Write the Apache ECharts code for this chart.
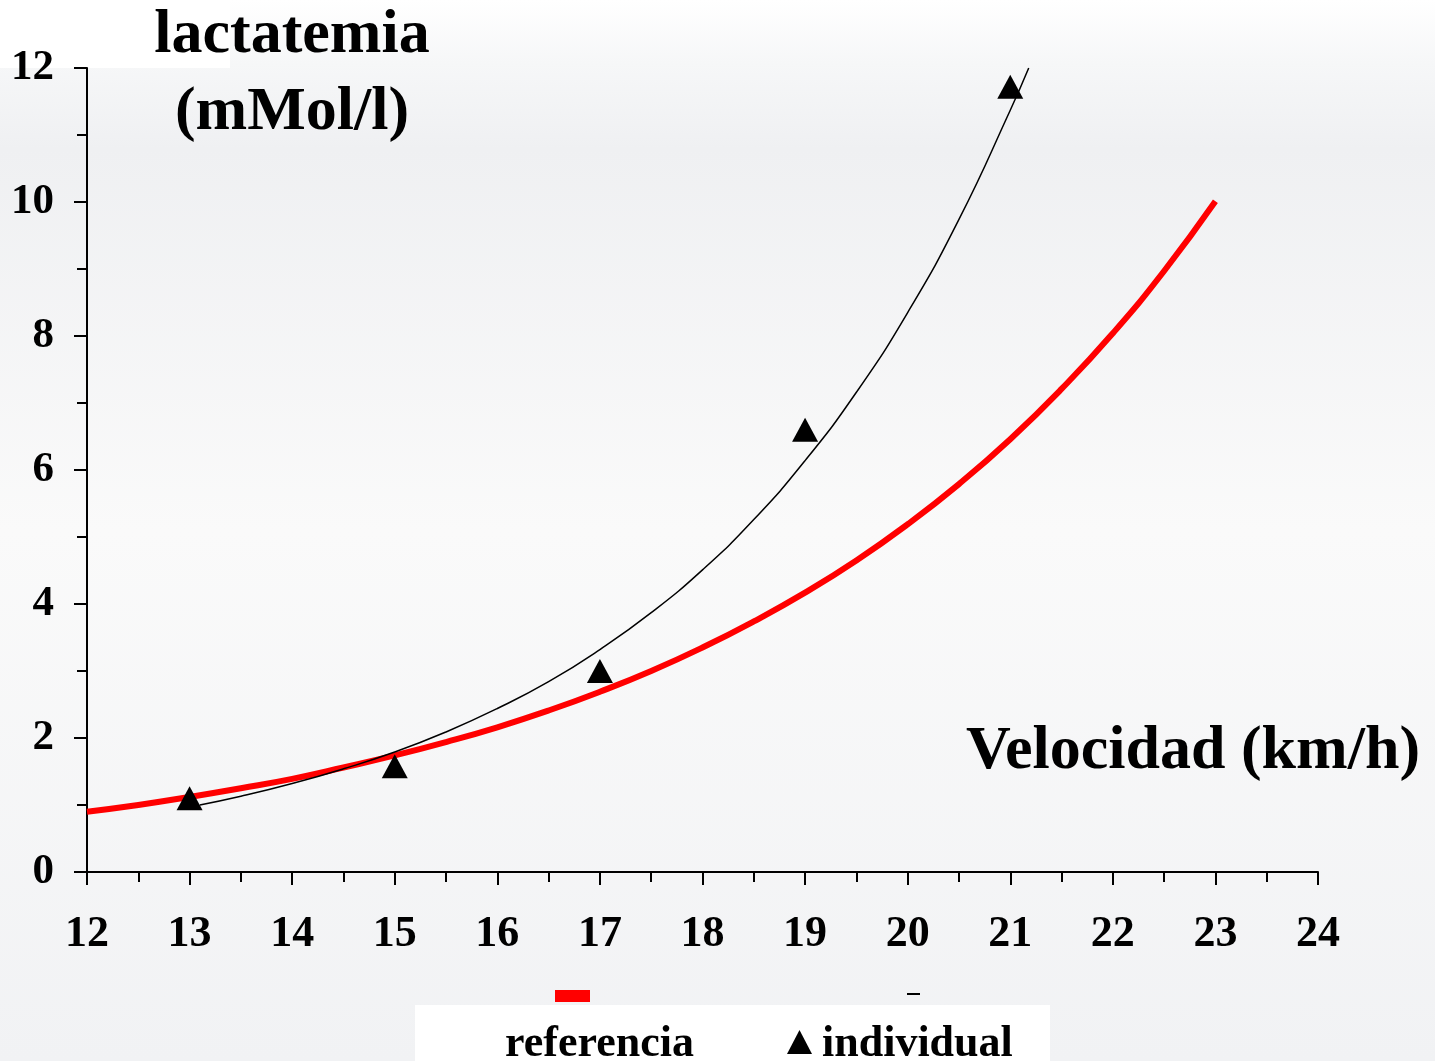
<!DOCTYPE html>
<html>
<head>
<meta charset="utf-8">
<script src="https://cdn.jsdelivr.net/npm/echarts@6/dist/echarts.min.js"></script>
<style>
  html, body { margin: 0; padding: 0; }
  #chart { width: 1435px; height: 1061px; }
</style>
</head>
<body>
<div id="chart"></div>
<script>
// ---- data ----
const xTickLabels = [12, 13, 14, 15, 16, 17, 18, 19, 20, 21, 22, 23, 24];
const yTickLabels = [0, 2, 4, 6, 8, 10, 12];

// "referencia" curve (red)
const refX = [12, 12.5, 13, 13.5, 14, 14.5, 15, 15.5, 16, 16.5, 17, 17.5, 18, 18.5, 19, 19.5, 20, 20.5, 21, 21.5, 22, 22.5, 23];
const refY = [0.90, 1.00, 1.12, 1.25, 1.39, 1.56, 1.74, 1.94, 2.16, 2.41, 2.69, 3.00, 3.35, 3.74, 4.17, 4.65, 5.19, 5.79, 6.46, 7.21, 8.04, 8.97, 10.01];

// fitted curve through the individual points (black)
const fitX = [13.1, 13.5, 14, 14.5, 15, 15.5, 16, 16.5, 17, 17.5, 18, 18.5, 19, 19.5, 20, 20.5, 21, 21.18];
const fitY = [1.00, 1.13, 1.32, 1.54, 1.79, 2.09, 2.44, 2.84, 3.32, 3.87, 4.51, 5.26, 6.14, 7.16, 8.35, 9.74, 11.37, 12.00];

// "individual" measured points (triangles)
const indX = [13, 15, 17, 19, 21];
const indY = [1.10, 1.58, 3.00, 6.60, 11.72];

const seriesNames = ['referencia', 'individual'];
const yTitle = 'lactatemia\n(mMol/l)';
const xTitle = 'Velocidad (km/h)';

const pairs = (xs, ys) => xs.map((x, i) => [x, ys[i]]);

const FONT = '"Liberation Serif", "Times New Roman", "DejaVu Serif", serif';

const chart = echarts.init(document.getElementById('chart'), null, { renderer: 'canvas' });

const option = {
  animation: false,
  backgroundColor: new echarts.graphic.LinearGradient(0, 0, 0, 1, [
    { offset: 0, color: '#ffffff' },
    { offset: 0.06, color: '#f6f7f8' },
    { offset: 0.14, color: '#eff0f2' },
    { offset: 0.5, color: '#fafafa' },
    { offset: 1, color: '#f1f2f4' }
  ]),
  grid: { left: 87, right: 117, top: 68, bottom: 189, containLabel: false },
  xAxis: {
    type: 'value',
    min: 12, max: 24, interval: 1,
    axisLine: { show: true, lineStyle: { color: '#000', width: 2 } },
    axisTick: { show: true, length: 13, lineStyle: { color: '#000', width: 2 } },
    minorTick: { show: true, splitNumber: 2, length: 10, lineStyle: { color: '#000', width: 2 } },
    splitLine: { show: false },
    axisLabel: {
      margin: 41,
      color: '#000',
      fontFamily: FONT, fontWeight: 'bold', fontSize: 44, lineHeight: 44,
      formatter: v => (xTickLabels.indexOf(v) >= 0 ? String(v) : '')
    }
  },
  yAxis: {
    type: 'value',
    min: 0, max: 12, interval: 2,
    axisLine: { show: true, lineStyle: { color: '#000', width: 2 } },
    axisTick: { show: true, length: 13, lineStyle: { color: '#000', width: 2 } },
    minorTick: { show: true, splitNumber: 2, length: 10, lineStyle: { color: '#000', width: 2 } },
    splitLine: { show: false },
    axisLabel: {
      margin: 33,
      color: '#000',
      fontFamily: FONT, fontWeight: 'bold', fontSize: 43,
      formatter: v => (yTickLabels.indexOf(v) >= 0 ? String(v) : '')
    }
  },
  series: [
    {
      name: seriesNames[0],
      type: 'line',
      data: pairs(refX, refY),
      smooth: true,
      showSymbol: false,
      lineStyle: { color: '#ff0000', width: 6 },
      z: 2
    },
    {
      name: seriesNames[1] + ' (ajuste)',
      type: 'line',
      data: pairs(fitX, fitY),
      smooth: true,
      showSymbol: false,
      clip: false,
      lineStyle: { color: '#000000', width: 1.5 },
      z: 3
    },
    {
      name: seriesNames[1],
      type: 'scatter',
      data: pairs(indX, indY),
      symbol: 'triangle',
      symbolSize: [26, 24],
      itemStyle: { color: '#000000', opacity: 1 },
      z: 4
    }
  ],
  graphic: [
    { type: 'rect', z: -1, shape: { x: 0, y: 0, width: 230, height: 68 }, style: { fill: '#ffffff' } },
    {
      type: 'text', x: 292, y: -3, z: 10,
      style: {
        text: yTitle, fill: '#000',
        font: 'bold 62px ' + FONT,
        align: 'center', verticalAlign: 'top', textAlign: 'center', textVerticalAlign: 'top',
        lineHeight: 77
      }
    },
    {
      type: 'text', x: 1193, y: 721, z: 10,
      style: {
        text: xTitle, fill: '#000',
        font: 'bold 62px ' + FONT,
        align: 'center', verticalAlign: 'top', textAlign: 'center', textVerticalAlign: 'top',
        lineHeight: 62
      }
    },
    // legend box
    { type: 'rect', z: 10, shape: { x: 415, y: 1005, width: 635, height: 60 }, style: { fill: '#ffffff' } },
    { type: 'rect', z: 11, shape: { x: 555, y: 990, width: 35, height: 12 }, style: { fill: '#ff0000' } },
    { type: 'line', z: 11, shape: { x1: 907, y1: 994, x2: 920, y2: 994 }, style: { stroke: '#000', lineWidth: 2 } },
    {
      type: 'text', x: 505, y: 1023, z: 12,
      style: {
        text: seriesNames[0], fill: '#000', font: 'bold 44px ' + FONT,
        align: 'left', verticalAlign: 'top', textAlign: 'left', textVerticalAlign: 'top', lineHeight: 44
      }
    },
    {
      type: 'polygon', z: 12,
      shape: { points: [[799.5, 1030], [787, 1054], [812, 1054]] },
      style: { fill: '#000' }
    },
    {
      type: 'text', x: 822, y: 1023, z: 12,
      style: {
        text: seriesNames[1], fill: '#000', font: 'bold 44px ' + FONT,
        align: 'left', verticalAlign: 'top', textAlign: 'left', textVerticalAlign: 'top', lineHeight: 44
      }
    }
  ]
};

chart.setOption(option);
</script>
</body>
</html>
